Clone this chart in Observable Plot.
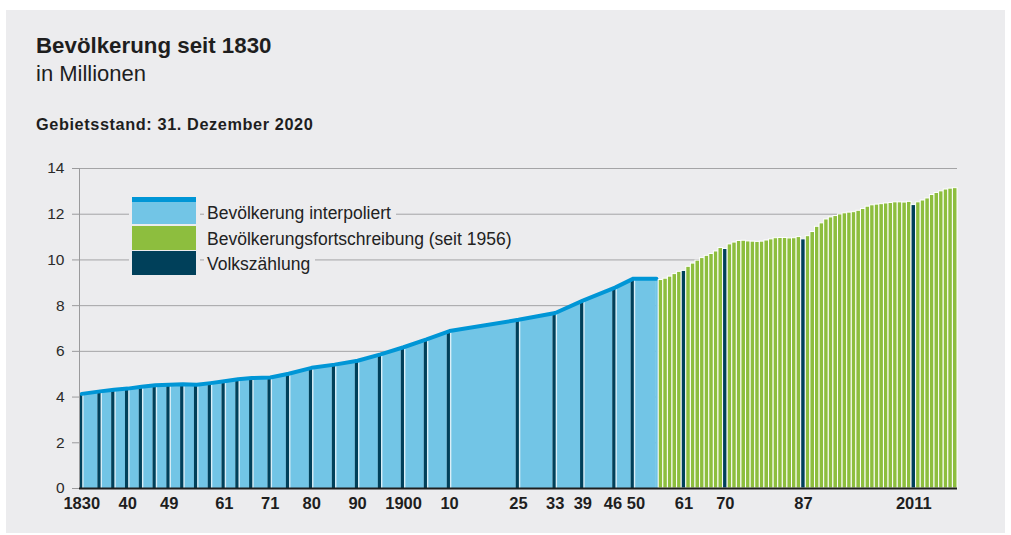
<!DOCTYPE html>
<html>
<head>
<meta charset="utf-8">
<script src="https://cdn.jsdelivr.net/npm/d3@7"></script>
<script src="https://cdn.jsdelivr.net/npm/@observablehq/plot@0.6"></script>
<style>
  body { margin: 0; background: #ffffff; font-family: "Liberation Sans", Arial, Helvetica, sans-serif; }
  #panel { position: absolute; left: 6px; top: 10px; width: 999px; height: 523px; background: #ececee; }
  .t { position: absolute; white-space: nowrap; color: #1e1e1e; line-height: 1; }
  #chart { position: absolute; left: 0; top: 150px; }
  .sw { position: absolute; left: 132px; width: 64px; }
  .lt { position: absolute; left: 204px; padding: 0 5px 0 3px; background: #ececee; font-size: 17.5px; line-height: 20px; color: #222; white-space: nowrap; }
</style>
</head>
<body>
<div id="panel"></div>
<div class="t" style="left:36px; top:35px; font-size:22.3px; font-weight:bold;">Bevölkerung seit 1830</div>
<div class="t" style="left:36px; top:63px; font-size:22px;">in Millionen</div>
<div class="t" style="left:36px; top:116px; font-size:16.3px; font-weight:bold; letter-spacing:0.6px;">Gebietsstand: 31. Dezember 2020</div>
<div id="chart"></div>
<div id="legend">
  <div style="position:absolute; left:129px; top:195px; width:71px; height:82px; background:#ececee;"></div>
  <div class="sw" style="top:197px; height:5px; background:#0096d6;"></div>
  <div class="sw" style="top:202px; height:22px; background:#72c5e6;"></div>
  <div class="sw" style="top:226px; height:24px; background:#8dbe3e;"></div>
  <div class="sw" style="top:251px; height:24px; background:#00405a;"></div>
  <div class="lt" style="top:203px;">Bevölkerung interpoliert</div>
  <div class="lt" style="top:229px;">Bevölkerungsfortschreibung (seit 1956)</div>
  <div class="lt" style="top:254px;">Volkszählung</div>
</div>
<script>
// Volkszählungen 1830–1950 (Mio.)
const censusYearsHist  = [1830,1834,1837,1840,1843,1846,1849,1852,1855,1858,1861,1864,1867,1871,1875,1880,1885,1890,1895,1900,1905,1910,1925,1933,1939,1946,1950];
const censusValuesHist = [4.14,4.25,4.32,4.37,4.45,4.52,4.54,4.56,4.54,4.61,4.69,4.78,4.83,4.86,5.02,5.28,5.42,5.59,5.87,6.18,6.52,6.89,7.38,7.68,8.22,8.79,9.18];
// interpolierte Bevölkerung: Stützpunkte bis 1955
const interpYears  = [...censusYearsHist, 1955];
const interpValues = [...censusValuesHist, 9.18];
// Bevölkerungsfortschreibung seit 1956 (Mio.)
const fortYears = [1956,1957,1958,1959,1960,1961,1962,1963,1964,1965,1966,1967,1968,1969,1970,1971,1972,1973,1974,1975,1976,1977,1978,1979,1980,1981,1982,1983,1984,1985,1986,1987,1988,1989,1990,1991,1992,1993,1994,1995,1996,1997,1998,1999,2000,2001,2002,2003,2004,2005,2006,2007,2008,2009,2010,2011,2012,2013,2014,2015,2016,2017,2018,2019,2020];
const fortValues = [9.12,9.18,9.27,9.38,9.48,9.52,9.70,9.84,9.97,10.08,10.18,10.26,10.37,10.52,10.48,10.68,10.76,10.83,10.84,10.81,10.80,10.79,10.80,10.85,10.90,10.95,10.96,10.96,10.94,10.95,11.00,10.90,11.04,11.22,11.45,11.60,11.77,11.86,11.92,11.99,12.04,12.07,12.09,12.15,12.23,12.33,12.39,12.42,12.44,12.47,12.49,12.52,12.52,12.51,12.54,12.40,12.52,12.60,12.69,12.84,12.93,13.00,13.08,13.12,13.14];
const censusYearsModern = [1961, 1970, 1987, 2011];
// Achsenbeschriftung
const xTickYears  = [1830,1840,1849,1861,1871,1880,1890,1900,1910,1925,1933,1939,1946,1950,1961,1970,1987,2011];
const xTickLabels = ["1830","40","49","61","71","80","90","1900","10","25","33","39","46","50","61","70","87","2011"];
const yTicks = [0,2,4,6,8,10,12,14];

const C = { light: "#72c5e6", line: "#0096d6", navy: "#00405a", green: "#8dbe3e", grid: "#a4a4a6", strip: "#d9eef7" };

const hist = censusYearsHist.map((y, i) => ({year: y, value: censusValuesHist[i]}));
const interp = interpYears.map((y, i) => ({year: y, value: interpValues[i]}));
const interpLast = [interp[interp.length - 1]];
const fort = fortYears.map((y, i) => ({year: y, value: fortValues[i], census: censusYearsModern.includes(y)}));
const labelOf = new Map(xTickYears.map((y, i) => [y, xTickLabels[i]]));

// the two crowded labels (1946, 1950) are pushed slightly apart, as in the original
const crowdedLeft = 1946, crowdedRight = 1950;
const xAxisStyle = { tickFormat: d => labelOf.get(d), tickSize: 0, tickPadding: 9, fill: "#1e1e1e", fontSize: 16.5, fontWeight: "bold", label: null };

const chart = Plot.plot({
  width: 1011,
  height: 370,
  marginLeft: 79,
  marginRight: 54,
  marginTop: 18,
  marginBottom: 32,
  style: { background: "transparent", fontFamily: "'Liberation Sans', Arial, Helvetica, sans-serif" },
  x: { type: "linear", domain: [1829.5, 2020.5] },
  y: { domain: [0, 14] },
  marks: [
    Plot.ruleY(yTicks.filter(d => d > 0), { stroke: C.grid, strokeWidth: 1 }),
    Plot.areaY(interp, { x: "year", y: "value", fill: C.light }),
    Plot.rectY(interpLast, { x1: d => d.year, x2: d => d.year + 0.5, y: "value", fill: C.light }),
    Plot.rectY(hist, { x1: d => d.year - 0.5, x2: d => d.year + 0.5, y: "value", fill: C.strip }),
    Plot.rectY(hist, { x1: d => d.year - 0.5, x2: d => d.year + 0.5, y: "value", fill: C.navy, insetRight: 1.4 }),
    Plot.lineY(interp, { x: "year", y: "value", stroke: C.line, strokeWidth: 4 }),
    Plot.rectY(fort, { x1: d => d.year - 0.5, x2: d => d.year + 0.5, y: "value", fill: d => d.census ? C.navy : C.green, stroke: "#ffffff", strokeWidth: 1 }),
    Plot.frame({ anchor: "left", stroke: "#9a9a9c" }),
    Plot.ruleY([0], { stroke: "#1e1e1e", strokeWidth: 2 }),
    Plot.axisY({ ticks: yTicks, tickSize: 7, tickPadding: 8, stroke: "#9a9a9c", fill: "#2a2a2a", fontSize: 15.5, label: null }),
    Plot.axisX({ ...xAxisStyle, ticks: xTickYears.filter(d => d !== crowdedLeft && d !== crowdedRight) }),
    Plot.axisX({ ...xAxisStyle, ticks: [crowdedLeft], dx: -2 }),
    Plot.axisX({ ...xAxisStyle, ticks: [crowdedRight], dx: 2.5 })
  ]
});
document.getElementById("chart").appendChild(chart);
</script>
</body>
</html>
